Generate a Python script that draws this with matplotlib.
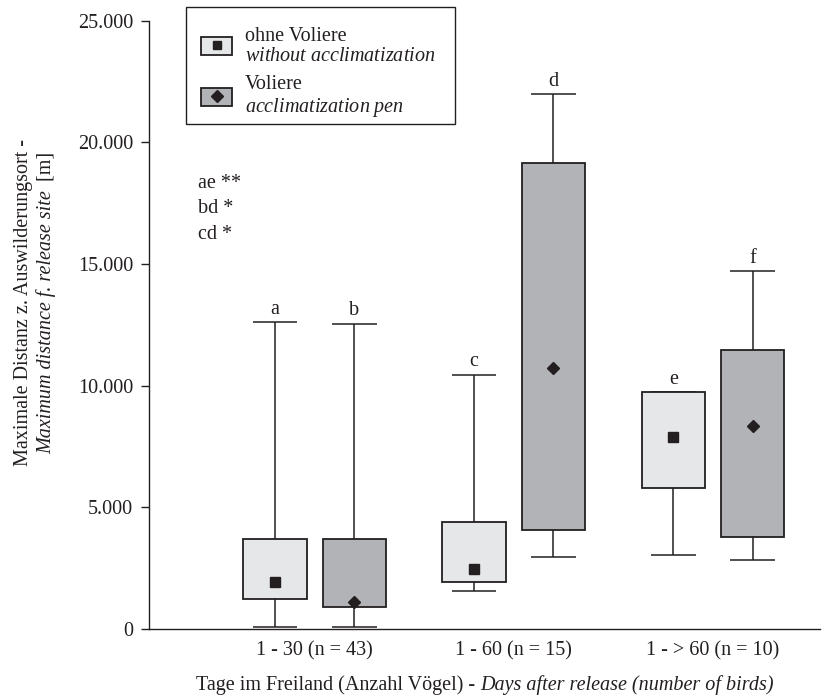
import matplotlib
matplotlib.use("Agg")
import matplotlib.pyplot as plt
from matplotlib.patches import Patch, Rectangle
from matplotlib.lines import Line2D
from matplotlib.legend_handler import HandlerTuple

plt.rcParams['font.family'] = ['Liberation Serif', 'DejaVu Serif']
plt.rcParams['mathtext.fontset'] = 'custom'
plt.rcParams['mathtext.rm'] = 'Liberation Serif'
plt.rcParams['mathtext.it'] = 'Liberation Serif:italic'

# Werte in m
groups = ['1 - 30 (n = 43)', '1 - 60 (n = 15)', '1 - > 60 (n = 10)']

# ohne Voliere (hell)
ohne_q1 = [1220, 1900, 5790]
ohne_q3 = [3690, 4370, 9730]
ohne_lo = [80, 1560, 3050]
ohne_hi = [12600, 10450, 9730]
ohne_mean = [1930, 2450, 7880]
ohne_letters = ['a', 'c', 'e']

# Voliere (dunkel)
vol_q1 = [880, 4050, 3780]
vol_q3 = [3690, 19160, 11480]
vol_lo = [80, 2950, 2820]
vol_hi = [12540, 21990, 14690]
vol_mean = [1100, 10730, 8320]
vol_letters = ['b', 'd', 'f']

yticks = [0, 5000, 10000, 15000, 20000, 25000]
ytick_labels = ['0', '5.000', '10.000', '15.000', '20.000', '25.000']

signif = ['ae **', 'bd *', 'cd *']

light = '#e6e7e8'
dark = '#b1b3b6'
ink = '#231f20'
fs = 14.5

W, H = 824, 700
fig = plt.figure(figsize=(W / 100, H / 100), dpi=100)
# Achse in Pixeln: links 149, rechts 820, oben 20.7, unten 628.7
ax = fig.add_axes([149 / W, 1 - 628.7 / H, (820 - 149) / W, (628.7 - 20.7) / H])


def px(x, y):
    return x / W, 1 - y / H


pos = [1, 2, 3]
off = 0.199
bw = 0.318
cw = 0.2245


def draw_boxes(xs, q1, q3, lo, hi, mean, letters, color, marker, ms):
    ax.vlines(xs, q3, hi, color=ink, lw=1.1, zorder=1)
    ax.vlines(xs, lo, q1, color=ink, lw=1.1, zorder=1)
    ax.hlines(hi, [x - cw / 2 for x in xs], [x + cw / 2 for x in xs], color=ink, lw=1.1, zorder=1)
    ax.hlines(lo, [x - cw / 2 for x in xs], [x + cw / 2 for x in xs], color=ink, lw=1.1, zorder=1)
    heights = [b - a for a, b in zip(q1, q3)]
    ax.bar(xs, heights, bottom=q1, width=bw, color=color, edgecolor=ink, linewidth=1.3, zorder=2)
    ax.plot(xs, mean, ls='none', marker=marker, color=ink, ms=ms, zorder=3)
    for x, h, t in zip(xs, hi, letters):
        ax.annotate(t, (x, h), xytext=(0, 6), textcoords='offset points',
                    ha='center', va='baseline', fontsize=fs, color=ink)


draw_boxes([p - off for p in pos], ohne_q1, ohne_q3, ohne_lo, ohne_hi, ohne_mean,
           ohne_letters, light, 's', 6.5)
draw_boxes([p + off for p in pos], vol_q1, vol_q3, vol_lo, vol_hi, vol_mean,
           vol_letters, dark, 'D', 6.5)

ax.set_xlim(0.168, 3.538)
ax.set_ylim(0, 25000)
ax.set_xticks(pos)
ax.set_xticklabels(groups, fontsize=fs, color=ink)
ax.set_yticks(yticks)
ax.set_yticklabels(ytick_labels, fontsize=fs, color=ink)
ax.tick_params(axis='x', length=0, pad=9)
ax.tick_params(axis='y', length=6, width=1, color=ink, pad=5.5)
for s in ['top', 'right']:
    ax.spines[s].set_visible(False)
for s in ['left', 'bottom']:
    ax.spines[s].set_color(ink)
    ax.spines[s].set_linewidth(1.0)

renderer = fig.canvas.get_renderer()


def text_len(s, style):
    t = fig.text(0, 0, s, fontsize=fs, fontstyle=style)
    w = t.get_window_extent(renderer).width
    t.remove()
    return w


def mixed_text(parts, cx, base, vertical=False):
    # parts: (text, style); cx = Mitte entlang der Schrift, base = Grundlinie (Pixel)
    gap = text_len('a a', 'normal') - text_len('aa', 'normal')
    lens = [text_len(s, st) for s, st in parts]
    total = sum(lens) + gap * (len(parts) - 1)
    for (s, st), n in zip(parts, lens):
        if vertical:
            start = cx + total / 2
            xy = px(base, start)
            cx -= n + gap
        else:
            start = cx - total / 2
            xy = px(start, base)
            cx += n + gap
        fig.text(*xy, s, fontsize=fs, fontstyle=st, color=ink,
                 rotation=90 if vertical else 0,
                 rotation_mode='anchor', ha='left', va='baseline')


# Achsenbeschriftungen
mixed_text([('Tage im Freiland (Anzahl Vögel) -', 'normal'),
            ('Days after release (number of birds)', 'italic')], 485, 690)
fig.text(*px(28, 302), 'Maximale Distanz z. Auswilderungsort -', fontsize=fs, color=ink,
         rotation=90, rotation_mode='anchor', ha='center', va='baseline')
mixed_text([('Maximum distance f. release site', 'italic'), (' [m]', 'normal')],
           303, 51, vertical=True)

# Signifikanzen
for i, t in enumerate(signif):
    fig.text(*px(198, 188 + 25.3 * i), t, ha='left', va='baseline', fontsize=fs, color=ink)

# Legende
handles = [
    (Patch(facecolor=light, edgecolor=ink, lw=1.3),
     Line2D([], [], ls='none', marker='s', color=ink, ms=6)),
    (Patch(facecolor=dark, edgecolor=ink, lw=1.3),
     Line2D([], [], ls='none', marker='D', color=ink, ms=6)),
]
labels = ['ohne Voliere\n$\\mathit{without\\ acclimatization}$',
          'Voliere\n$\\mathit{acclimatization\\ pen}$']
leg = fig.legend(handles, labels, handler_map={tuple: HandlerTuple()},
                 loc='upper left', bbox_to_anchor=px(187, 12.5), borderaxespad=0,
                 fontsize=fs, frameon=False, borderpad=0.7, handlelength=1.54,
                 handleheight=1.0, handletextpad=0.65, labelspacing=0.45)
for t in leg.get_texts():
    t.set_color(ink)
    t.set_linespacing(1.1)
x0, y0 = px(186, 124)
x1, y1 = px(455, 7.3)
fig.patches.append(Rectangle((x0, y0), x1 - x0, y1 - y0, transform=fig.transFigure,
                             facecolor='white', edgecolor=ink, lw=1.0, zorder=4))
leg.set_zorder(5)

fig.savefig('out.png', dpi=100)
